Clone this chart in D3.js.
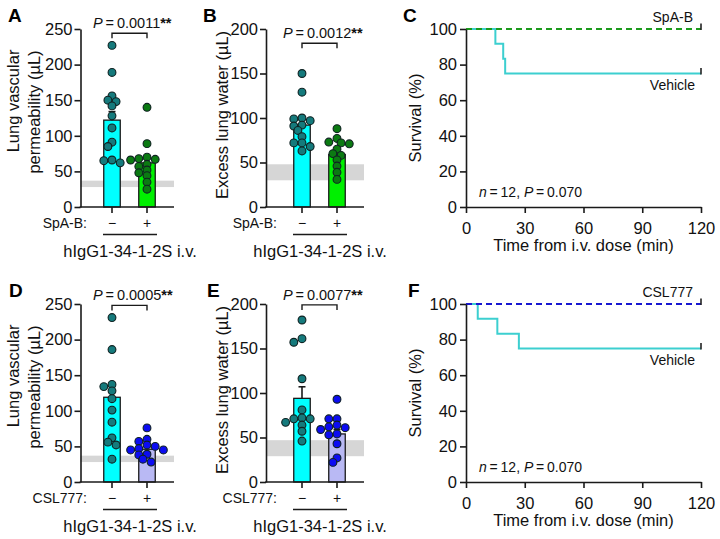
<!DOCTYPE html>
<html>
<head>
<meta charset="utf-8">
<script src="https://cdn.jsdelivr.net/npm/d3@7"></script>
<style>
  html, body { margin: 0; padding: 0; background: #fff; }
  svg { display: block; font-family: "Liberation Sans", Arial, Helvetica, sans-serif; }
</style>
</head>
<body>
<svg id="chart" width="720" height="539"></svg>
<script>
// ---------------- DATA ----------------
const groupLabels = ["\u2212", "+"];

// Panel A: Lung vascular permeability (µL), SpA-B
const aVehicle = [227, 189, 156, 150, 148, 142, 128, 111, 91, 85, 66, 65, 62];
const aTreated = [140, 89, 70, 68, 67, 66, 60, 57, 52, 48, 44, 35, 25];
const aMeans = [122, 62];
const aSem = [12, 8];
const aBand = [28, 37];
const aP = "0.0011";

// Panel B: Excess lung water (µL), SpA-B
const bVehicle = [150, 129, 100, 99, 97, 92, 91, 86, 79, 72, 72, 68, 63];
const bTreated = [88, 77, 73, 72, 71, 65, 60, 58, 53, 46, 39, 31];
const bMeans = [92, 59];
const bSem = [7, 5];
const bBand = [30, 48];
const bP = "0.0012";

// Panel D: Lung vascular permeability (µL), CSL777
const dVehicle = [231, 186, 137, 134, 128, 117, 101, 84, 62, 56, 52, 32];
const dTreated = [76, 60, 57, 52, 50, 47, 45, 45, 39, 38, 32, 28];
const dMeans = [119, 46];
const dSem = [15, 4];
const dBand = [28, 37];
const dP = "0.0005";

// Panel E: Excess lung water (µL), CSL777
const eVehicle = [182, 161, 157, 116, 81, 72, 71, 71, 67, 64, 57, 46];
const eTreated = [93, 71, 71, 64, 62, 61, 59, 54, 53, 43, 27, 22];
const eMeans = [94, 54];
const eSem = [13, 5];
const eBand = [29, 47];
const eP = "0.0077";

// Survival (C, F)
const survTimesC = [0, 15, 19, 20, 120];
const survVehicleC = [100, 91.7, 83.3, 75, 75];
const survTimesF = [0, 6, 16, 27, 120];
const survVehicleF = [100, 91.7, 83.3, 75, 75];
const survTreatedTimes = [0, 120];
const survTreatedValues = [100, 100];

const permTicks = [0, 50, 100, 150, 200, 250];
const waterTicks = [0, 50, 100, 150, 200];
const survYTicks = [0, 20, 40, 60, 80, 100];
const survXTicks = [0, 30, 60, 90, 120];

// ---------------- STYLE ----------------
const C = {
  axis: "#1a1a1a",
  cyanBar: "#00ffff",
  greenBar: "#00f000",
  lavBar: "#b9b9f4",
  tealPt: "#157a7c",
  greenPt: "#0b7a12",
  bluePt: "#0c0cf2",
  survCyan: "#3ccfd0",
  survGreen: "#1c9a1c",
  survBlue: "#1818d0",
  band: "#d6d6d6"
};
const FS = 16.5;

const svg = d3.select("#chart");

function beeswarm(values, yScale, r) {
  const sorted = values.map((v, i) => ({ v, i })).sort((a, b) => b.v - a.v);
  const placed = [];
  const minD = 1.45 * r;
  const step = r * 1.05;
  sorted.forEach(p => {
    const py = yScale(p.v);
    let off = 0;
    for (let k = 0; k < 20; k++) {
      const cand = k === 0 ? 0 : (k % 2 === 1 ? -1 : 1) * Math.ceil(k / 2) * step;
      const ok = placed.every(q => Math.hypot(q.x - cand, q.y - py) >= minD);
      if (ok) { off = cand; break; }
    }
    placed.push({ x: off, y: py, v: p.v });
  });
  return placed;
}

function styleAxis(g) {
  g.selectAll("path.domain").attr("stroke", C.axis).attr("stroke-width", 1.6);
  g.selectAll(".tick line").attr("stroke", C.axis).attr("stroke-width", 1.6);
  g.selectAll(".tick text").attr("fill", "#111").style("font-size", FS + "px")
    .style("font-family", '"Liberation Sans", Arial, sans-serif');
}

function barPanel(cfg) {
  const g = svg.append("g").attr("transform", `translate(0,${cfg.dy})`);
  const y = d3.scaleLinear().domain([0, cfg.max]).range([207, 29]);
  const x = d3.scalePoint().domain(groupLabels).range(cfg.barX);
  const bw = 16.5;

  g.append("rect").attr("x", cfg.axisX).attr("width", cfg.axisEnd - cfg.axisX)
    .attr("y", y(cfg.band[1])).attr("height", y(cfg.band[0]) - y(cfg.band[1]))
    .attr("fill", C.band);

  const barColors = [C.cyanBar, cfg.barColor];
  g.selectAll("rect.bar").data(cfg.means).enter().append("rect")
    .attr("x", (d, i) => x(groupLabels[i]) - bw / 2)
    .attr("width", bw)
    .attr("y", d => y(d))
    .attr("height", d => y(0) - y(d))
    .attr("fill", (d, i) => barColors[i])
    .attr("stroke", "#1a1a1a").attr("stroke-width", 1.3);

  cfg.means.forEach((m, i) => {
    const cx = x(groupLabels[i]);
    g.append("line").attr("x1", cx).attr("x2", cx).attr("y1", y(m)).attr("y2", y(m + cfg.sem[i]))
      .attr("stroke", "#1a1a1a").attr("stroke-width", 1.6);
    g.append("line").attr("x1", cx - 3.5).attr("x2", cx + 3.5).attr("y1", y(m + cfg.sem[i])).attr("y2", y(m + cfg.sem[i]))
      .attr("stroke", "#1a1a1a").attr("stroke-width", 1.6);
  });

  const r = 3.9;
  const ptColors = [C.tealPt, cfg.ptColor];
  [cfg.vehicle, cfg.treated].forEach((vals, i) => {
    const cx = x(groupLabels[i]);
    const pts = beeswarm(vals, y, r);
    g.selectAll(null).data(pts).enter().append("circle")
      .attr("cx", d => cx + d.x).attr("cy", d => d.y).attr("r", r)
      .attr("fill", ptColors[i]).attr("stroke", "#102222").attr("stroke-width", 1.1);
  });

  const ya = g.append("g").attr("transform", `translate(${cfg.axisX},0)`)
    .call(d3.axisLeft(y).tickValues(cfg.ticks).tickSize(6).tickSizeOuter(0).tickPadding(2));
  styleAxis(ya);

  g.append("line").attr("x1", cfg.axisX - 0.8).attr("x2", cfg.axisEnd).attr("y1", y(0)).attr("y2", y(0))
    .attr("stroke", C.axis).attr("stroke-width", 1.6);
  groupLabels.forEach(lbl => {
    g.append("line").attr("x1", x(lbl)).attr("x2", x(lbl)).attr("y1", y(0)).attr("y2", y(0) + 6)
      .attr("stroke", C.axis).attr("stroke-width", 1.6);
    g.append("text").attr("x", x(lbl)).attr("y", 228).attr("text-anchor", "middle")
      .style("font-size", "14px").attr("fill", "#111").text(lbl);
  });
  g.append("text").attr("x", x(groupLabels[0]) - 25).attr("y", 228).attr("text-anchor", "end")
    .style("font-size", "14px").attr("fill", "#111").text(cfg.treatName + ":");

  const x0 = x(groupLabels[0]) - 9, x1 = x(groupLabels[1]) + 10;
  g.append("line").attr("x1", x0).attr("x2", x1).attr("y1", 234.5).attr("y2", 234.5)
    .attr("stroke", C.axis).attr("stroke-width", 1.4);
  g.append("text").attr("x", (x0 + x1) / 2).attr("y", 257).attr("text-anchor", "middle")
    .style("font-size", FS + "px").attr("fill", "#111").text("hIgG1-34-1-2S i.v.");

  const by = y(cfg.bracket);
  const bx0 = x(groupLabels[0]), bx1 = x(groupLabels[1]);
  g.append("path").attr("d", `M${bx0},${by + 5}V${by}H${bx1}V${by + 5}`)
    .attr("fill", "none").attr("stroke", C.axis).attr("stroke-width", 1.4);
  const t = g.append("text").attr("x", (bx0 + bx1) / 2 - 36.5).attr("y", by - 5)
    .style("font-size", "14.5px").attr("fill", "#111");
  t.append("tspan").style("font-style", "italic").text("P");
  t.append("tspan").text("\u2009=\u2009" + cfg.p);
  t.append("tspan").style("font-weight", "bold").text("**");

  cfg.title.forEach(line => {
    g.append("text").attr("transform", `translate(${line.bx},${line.cy}) rotate(-90)`)
      .attr("text-anchor", "middle").style("font-size", FS + "px").attr("fill", "#111").text(line.text);
  });

  g.append("text").attr("x", cfg.letterX).attr("y", 22).style("font-size", "19px").style("font-weight", "bold")
    .attr("fill", "#000").text(cfg.letter);
}

function survPanel(cfg) {
  const g = svg.append("g").attr("transform", `translate(0,${cfg.dy})`);
  const x = d3.scaleLinear().domain([0, 120]).range([466, 701]);
  const y = d3.scaleLinear().domain([0, 100]).range([207, 29]);
  const line = d3.line().x(d => x(d[0])).y(d => y(d[1])).curve(d3.curveStepAfter);

  const veh = cfg.times.map((t, i) => [t, cfg.vehicle[i]]);
  const trt = survTreatedTimes.map((t, i) => [t, survTreatedValues[i]]);

  g.append("path").attr("d", line(veh)).attr("fill", "none").attr("stroke", C.survCyan).attr("stroke-width", 2);
  g.append("path").attr("d", line(trt)).attr("fill", "none").attr("stroke", cfg.color)
    .attr("stroke-width", 2).attr("stroke-dasharray", "6,4");

  [veh[veh.length - 1], trt[trt.length - 1]].forEach(d => {
    g.append("line").attr("x1", x(d[0])).attr("x2", x(d[0])).attr("y1", y(d[1]) + 1).attr("y2", y(d[1]) - 5.5)
      .attr("stroke", "#222").attr("stroke-width", 1.6);
  });

  const ya = g.append("g").attr("transform", `translate(466,0)`)
    .call(d3.axisLeft(y).tickValues(survYTicks).tickSize(6).tickSizeOuter(0).tickPadding(3));
  styleAxis(ya);
  const xa = g.append("g").attr("transform", `translate(0,207)`)
    .call(d3.axisBottom(x).tickValues(survXTicks).tickSize(6).tickSizeOuter(0).tickPadding(9));
  styleAxis(xa);

  g.append("text").attr("x", 583.5).attr("y", 251).attr("text-anchor", "middle")
    .style("font-size", FS + "px").attr("fill", "#111").text("Time from i.v. dose (min)");
  g.append("text").attr("transform", `translate(421,118) rotate(-90)`).attr("text-anchor", "middle")
    .style("font-size", FS + "px").attr("fill", "#111").text("Survival (%)");

  g.append("text").attr("x", 693).attr("y", 22).attr("text-anchor", "end").style("font-size", "14px")
    .attr("fill", "#111").text(cfg.treatName);
  g.append("text").attr("x", 695).attr("y", 90).attr("text-anchor", "end").style("font-size", "14px")
    .attr("fill", "#111").text("Vehicle");

  const t = g.append("text").attr("x", 479).attr("y", 197).style("font-size", "14px").attr("fill", "#111");
  t.append("tspan").style("font-style", "italic").text("n");
  t.append("tspan").text("\u2009=\u200912, ");
  t.append("tspan").style("font-style", "italic").text("P");
  t.append("tspan").text("\u2009=\u20090.070");

  g.append("text").attr("x", cfg.letterX).attr("y", 22).style("font-size", "19px").style("font-weight", "bold")
    .attr("fill", "#000").text(cfg.letter);
}

const permTitle = [
  { text: "Lung vascular", bx: 18.5, cy: 101 },
  { text: "permeability (\u00b5L)", bx: 40, cy: 112 }
];
const waterTitle = [{ text: "Excess lung water (\u00b5L)", bx: 228, cy: 115 }];

barPanel({ dy: 0, letter: "A", letterX: 8, max: 250, ticks: permTicks, axisX: 80.5, axisEnd: 174, barX: [112, 147],
  vehicle: aVehicle, treated: aTreated, means: aMeans, sem: aSem, band: aBand, p: aP, bracket: 244,
  barColor: C.greenBar, ptColor: C.greenPt, treatName: "SpA-B", title: permTitle });
barPanel({ dy: 0, letter: "B", letterX: 203, max: 200, ticks: waterTicks, axisX: 266, axisEnd: 364, barX: [302, 337],
  vehicle: bVehicle, treated: bTreated, means: bMeans, sem: bSem, band: bBand, p: bP, bracket: 184,
  barColor: C.greenBar, ptColor: C.greenPt, treatName: "SpA-B", title: waterTitle });
barPanel({ dy: 275, letter: "D", letterX: 9, max: 250, ticks: permTicks, axisX: 80.5, axisEnd: 174, barX: [112, 147],
  vehicle: dVehicle, treated: dTreated, means: dMeans, sem: dSem, band: dBand, p: dP, bracket: 248,
  barColor: C.lavBar, ptColor: C.bluePt, treatName: "CSL777", title: permTitle });
barPanel({ dy: 275, letter: "E", letterX: 207, max: 200, ticks: waterTicks, axisX: 266, axisEnd: 364, barX: [302, 337],
  vehicle: eVehicle, treated: eTreated, means: eMeans, sem: eSem, band: eBand, p: eP, bracket: 199,
  barColor: C.lavBar, ptColor: C.bluePt, treatName: "CSL777", title: waterTitle });

survPanel({ dy: 0, letter: "C", letterX: 403, times: survTimesC, vehicle: survVehicleC, color: C.survGreen, treatName: "SpA-B" });
survPanel({ dy: 275, letter: "F", letterX: 408, times: survTimesF, vehicle: survVehicleF, color: C.survBlue, treatName: "CSL777" });
</script>
</body>
</html>
